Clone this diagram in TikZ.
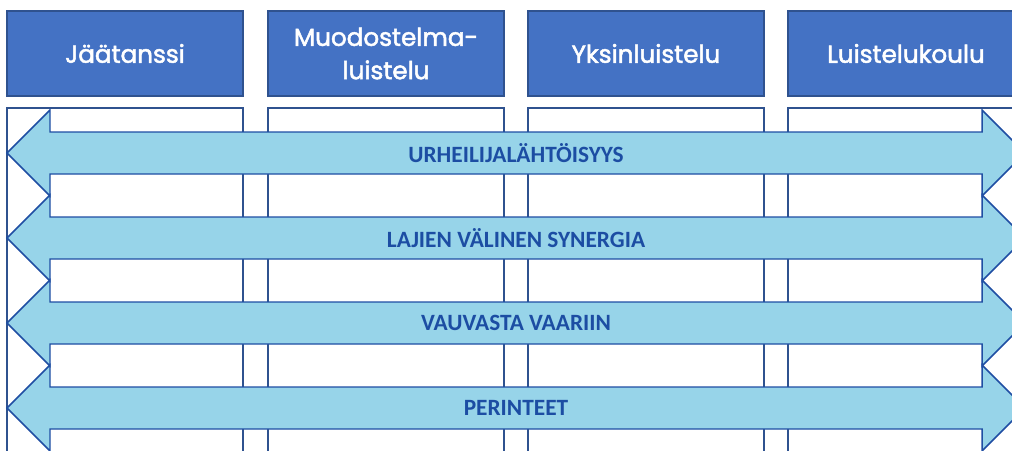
\documentclass[tikz,border=0pt]{standalone}
\usepackage{fontspec}
\setmainfont{Carlito}
\newfontfamily\headfont[FakeBold=2]{Poppins}
\usetikzlibrary{positioning, calc}
\definecolor{headblue}{HTML}{4472C4}
\definecolor{headline}{HTML}{2F528F}
\definecolor{arrowfill}{HTML}{97D4E9}
\definecolor{arrowline}{HTML}{1F4EA3}
\definecolor{labelblue}{HTML}{1C4DA3}

\begin{document}
\begin{tikzpicture}[x=0.75pt,y=-0.75pt]
	\def \headrow{53.5}
	\def \colrow{289}
	\def \tipleft{7}
	\def \tipright{1025}
	\tikzstyle{h-node}=[draw=headline,fill=headblue,text=white,line width=0.8pt,align=center,minimum width=177pt,minimum height=63.75pt,inner sep=0pt,font=\headfont\fontsize{18.5}{25}\selectfont]
	\tikzstyle{c-node}=[draw=headline,fill=white,line width=1pt,minimum width=177pt,minimum height=271.5pt,inner sep=0pt]
	\tikzstyle{a-path}=[draw=arrowline,fill=arrowfill,line width=1.1pt,line join=miter]
	\tikzstyle{a-label}=[text=labelblue,font=\bfseries\fontsize{17.5}{19}\selectfont,inner sep=0pt]
	\useasboundingbox (0,0) rectangle (1012,450);
	\clip (0,0) rectangle (1012,450);

	% columns
	\node[c-node] (c0) at (125,\colrow) {};
	\node[c-node] (c1) at (386,\colrow) {};
	\node[c-node] (c2) at (646,\colrow) {};
	\node[c-node] (c3) at (906,\colrow) {};

	% headers
	\node[h-node] (h0) at (125,\headrow) {Jäätanssi};
	\node[h-node] (h1) at (386,\headrow) {Muodostelma-\\luistelu};
	\node[h-node] (h2) at (646,\headrow) {Yksinluistelu};
	\node[h-node] (h3) at (906,\headrow) {Luistelukoulu};

	% arrows
	\foreach \c/\txt [count=\i] in {153/URHEILIJALÄHTÖISYYS, 238/LAJIEN VÄLINEN SYNERGIA, 323/VAUVASTA VAARIIN, 408/PERINTEET}
	{
		\path[a-path] (\tipleft,\c) -- (50,\c-43) -- (50,\c-21) -- (982,\c-21) -- (982,\c-43)
			-- (\tipright,\c) -- (982,\c+43) -- (982,\c+21) -- (50,\c+21) -- (50,\c+43) -- cycle;
		\node[a-label] (a\i) at (516,\c) {\txt};
	}
\end{tikzpicture}
\end{document}
